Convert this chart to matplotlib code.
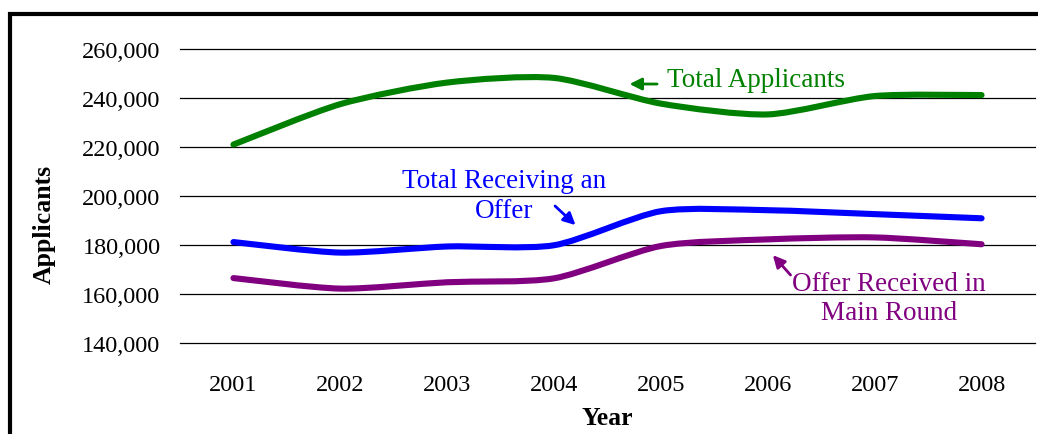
import matplotlib
matplotlib.use("Agg")
import matplotlib.pyplot as plt
from matplotlib.path import Path
from matplotlib.patches import PathPatch, Rectangle
from matplotlib.ticker import FuncFormatter

# values
years = [2001, 2002, 2003, 2004, 2005, 2006, 2007, 2008]
total_applicants = [221000, 237500, 246300, 248200, 237700, 233300, 240800, 241200]
total_offer = [181200, 176900, 179400, 179900, 193800, 194200, 192600, 190900]
main_round = [166500, 162200, 164800, 166400, 179600, 182300, 183100, 180300]

plt.rcParams['font.family'] = ['Liberation Serif', 'DejaVu Serif']


def smooth_path(x, y, k=8):
    # mildly smoothed line: cubic bezier through each point
    n = len(x)
    verts = [(x[0], y[0])]
    codes = [Path.MOVETO]
    for i in range(n - 1):
        a = max(i - 1, 0)
        b = min(i + 2, n - 1)
        c1 = (x[i] + (x[i + 1] - x[a]) / k, y[i] + (y[i + 1] - y[a]) / k)
        c2 = (x[i + 1] - (x[b] - x[i]) / k, y[i + 1] - (y[b] - y[i]) / k)
        verts += [c1, c2, (x[i + 1], y[i + 1])]
        codes += [Path.CURVE4] * 3
    return Path(verts, codes)


fig = plt.figure(figsize=(10.38, 4.35), dpi=100)
ax = fig.add_axes([180 / 1038, 91 / 435, 855 / 1038, 294 / 435])

for vals, col in [(total_applicants, '#008000'), (total_offer, '#0000ff'), (main_round, '#800080')]:
    ax.add_patch(PathPatch(smooth_path(years, vals), fill=False, edgecolor=col,
                           lw=4.4, capstyle='round', joinstyle='round', zorder=3))

ax.set_xlim(2000.5, 2008.5)
ax.set_ylim(140000, 260000)
ax.set_xticks(years)
ax.set_yticks(range(140000, 260001, 20000))
ax.yaxis.set_major_formatter(FuncFormatter(lambda v, p: f"{int(v):,}"))
ax.tick_params(axis='y', length=0, pad=14, labelsize=17.5)
ax.tick_params(axis='x', length=0, pad=22, labelsize=17.5)
ax.grid(axis='y', color='black', lw=0.9)
for gl in ax.get_ygridlines():
    gl.set_clip_on(False)
ax.set_axisbelow(True)
for s in ax.spines.values():
    s.set_visible(False)

ax.set_xlabel('Year', fontsize=18.5, fontweight='bold', va='center')
ax.xaxis.set_label_coords(0.5, -0.252)
ax.set_ylabel('Applicants', fontsize=18.5, fontweight='bold', va='center')
ax.yaxis.set_label_coords(-0.159, 0.408)

# labels with arrows
ax.annotate('', xy=(2004.68, 245700), xytext=(2004.99, 245700),
            arrowprops=dict(arrowstyle='-|>', color='#008000', lw=2, mutation_scale=18))
ax.text(2005.06, 247700, 'Total Applicants', color='#008000', fontsize=19.5,
        ha='left', va='center')

ax.annotate('', xy=(2004.22, 187350), xytext=(2003.99, 196700),
            arrowprops=dict(arrowstyle='-|>', color='#0000ff', lw=2, mutation_scale=18))
ax.text(2003.53, 200200, 'Total Receiving an\nOffer', color='#0000ff', fontsize=19.5,
        ha='center', va='center', linespacing=1.25)

ax.annotate('', xy=(2006.03, 176700), xytext=(2006.23, 166900),
            arrowprops=dict(arrowstyle='-|>', color='#800080', lw=2, mutation_scale=18))
ax.text(2007.13, 158400, 'Offer Received in\nMain Round', color='#800080', fontsize=19.5,
        ha='center', va='center', linespacing=1.25)

# outer frame, cut off at right and bottom
fig.patches.append(Rectangle((10 / 1038, -0.2), 1.2, 1.2 - 15 / 435, transform=fig.transFigure,
                             fill=False, lw=3, edgecolor='black'))

fig.savefig('out.png', dpi=100)
